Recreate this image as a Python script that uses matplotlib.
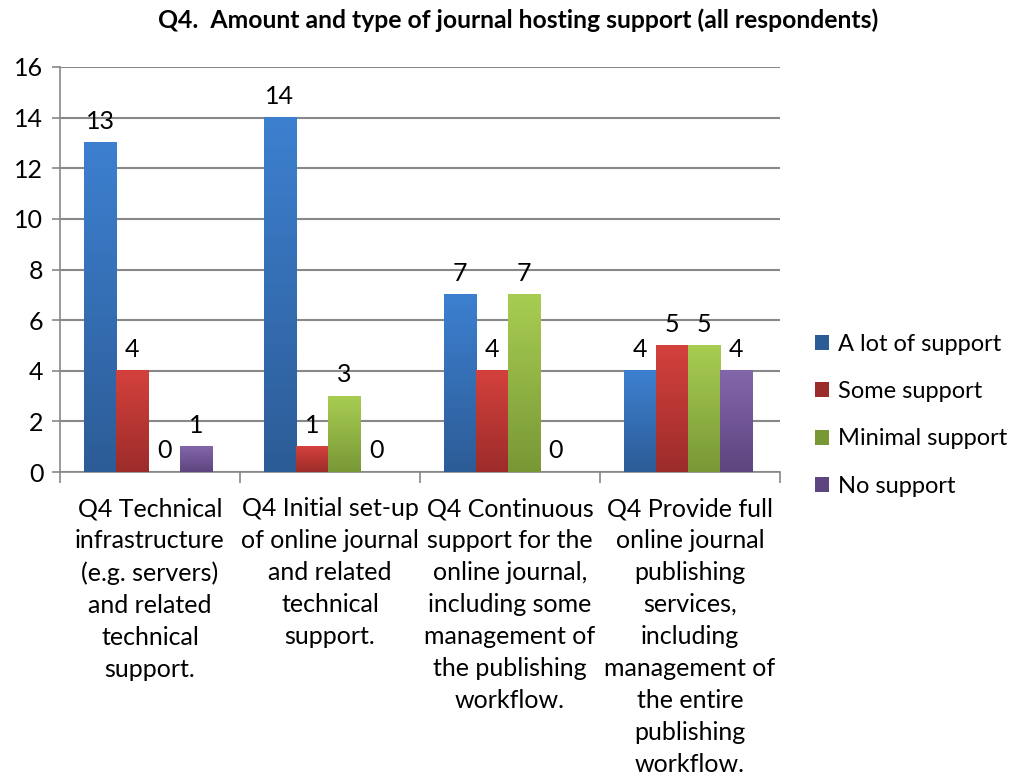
import numpy as np
import matplotlib.pyplot as plt
from matplotlib.colors import LinearSegmentedColormap
from matplotlib.patches import Patch

plt.rcParams['font.family'] = ['Lato', 'DejaVu Sans']

categories = [
    "Q4 Technical\ninfrastructure\n(e.g. servers)\nand related\ntechnical\nsupport.",
    "Q4 Initial set-up\nof online journal\nand related\ntechnical\nsupport.",
    "Q4 Continuous\nsupport for the\nonline journal,\nincluding some\nmanagement of\nthe publishing\nworkflow.",
    "Q4 Provide full\nonline journal\npublishing\nservices,\nincluding\nmanagement of\nthe entire\npublishing\nworkflow.",
]
series = ["A lot of support", "Some support", "Minimal support", "No support"]
values = {
    "A lot of support": [13, 14, 7, 4],
    "Some support": [4, 1, 4, 5],
    "Minimal support": [0, 3, 7, 5],
    "No support": [1, 0, 0, 4],
}
yticks = [0, 2, 4, 6, 8, 10, 12, 14, 16]

# light (top) / dark (bottom) colours per series
colors = {
    "A lot of support": ("#3d80d0", "#2c5c96"),
    "Some support": ("#d4413d", "#9c2c2a"),
    "Minimal support": ("#a8cd52", "#789836"),
    "No support": ("#8466ab", "#5d457f"),
}

fig = plt.figure(figsize=(10.24, 7.79), dpi=100)
ax = fig.add_axes([0.0586, 0.394, 0.703, 0.52])

x = np.arange(len(categories))
w = 0.178
grad = np.linspace(0, 1, 256).reshape(-1, 1)

for i, s in enumerate(series):
    top, bot = colors[s]
    cmap = LinearSegmentedColormap.from_list(s, [bot, top])
    offs = (i - 1.5) * w - 0.011
    for xi, v in zip(x, values[s]):
        x0 = xi + offs - w / 2
        if v > 0:
            ax.imshow(grad, extent=(x0, x0 + w, 0, v), origin='lower', cmap=cmap,
                      aspect='auto', interpolation='bicubic', zorder=3)
        ax.annotate(str(v), (xi + offs, v), xytext=(0, 7), textcoords='offset points',
                    ha='center', va='bottom', fontsize=18, zorder=4)

ax.set_xlim(-0.5, 3.5)
ax.set_ylim(0, 16)
ax.set_yticks(yticks)
ax.tick_params(axis='y', labelsize=18, length=6, color='#888888', width=1.2, pad=6)
ax.yaxis.grid(True, color='#888888', linewidth=1.5, zorder=0)
ax.set_axisbelow(True)

ax.set_xticks(np.arange(-0.5, 4.0, 1.0))
ax.set_xticklabels([])
ax.tick_params(axis='x', which='major', length=8, color='#888888', width=1.2)
ax.set_xticks(x, minor=True)
ax.set_xticklabels(categories, minor=True, fontsize=18, linespacing=1.47, va='top')
ax.tick_params(axis='x', which='minor', length=0, pad=18)

for sp in ['top', 'right']:
    ax.spines[sp].set_visible(False)
for sp in ['left', 'bottom']:
    ax.spines[sp].set_color('#888888')
    ax.spines[sp].set_linewidth(1.2)

handles = [Patch(facecolor=colors[s][1], edgecolor='none') for s in series]
fig.legend(handles, series, loc='center left', bbox_to_anchor=(0.775, 0.467),
           frameon=False, fontsize=17, handlelength=0.6, handleheight=0.6,
           handletextpad=0.4, labelspacing=1.12)

fig.text(0.506, 0.974, "Q4.  Amount and type of journal hosting support (all respondents)",
         ha='center', va='center', fontsize=17.8, fontweight='bold')

fig.savefig('out.png', dpi=100)
